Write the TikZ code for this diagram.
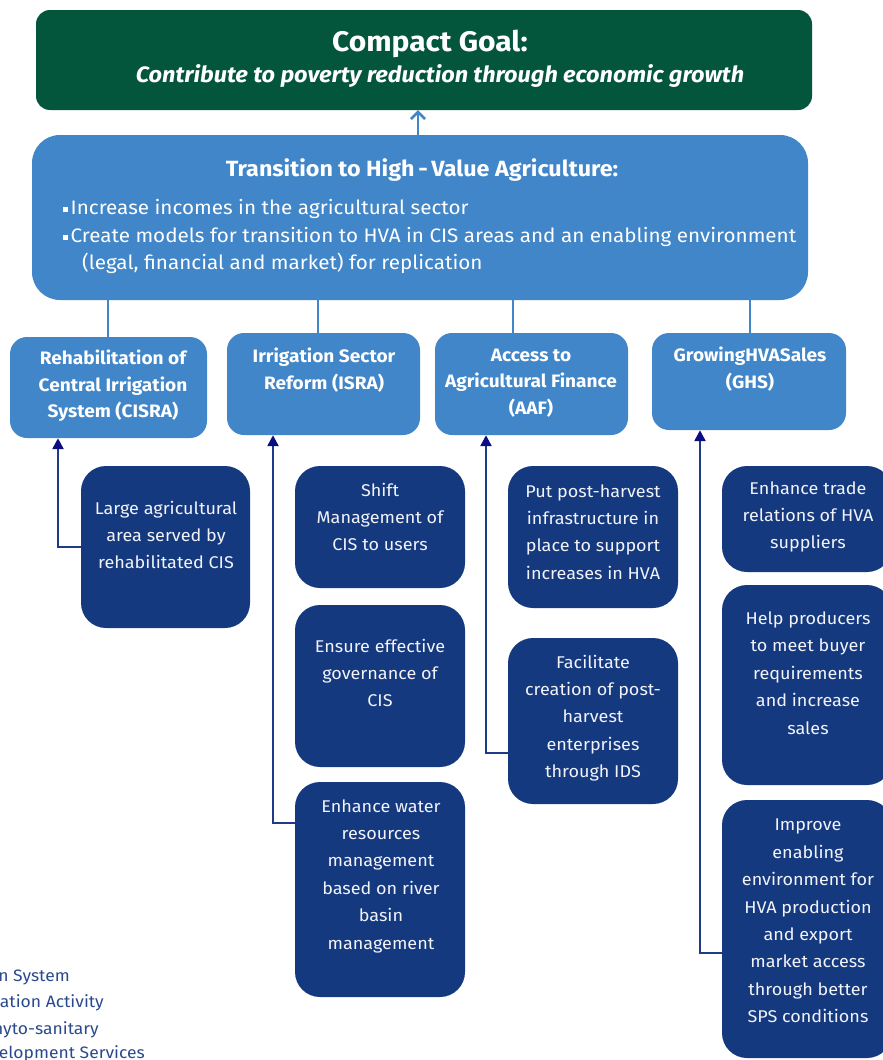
\documentclass[tikz,border=0pt]{standalone}
\usepackage{fontspec}
\setmainfont[FakeStretch=1.06]{Fira Sans}
\usetikzlibrary{arrows.meta}
\definecolor{goalgreen}{HTML}{03563B}
\definecolor{midblue}{HTML}{4186C8}
\definecolor{darkbox}{HTML}{15397F}
\definecolor{connblue}{HTML}{1E3B87}
\definecolor{tipnavy}{HTML}{0B0E80}
\definecolor{boxtext}{HTML}{F2F3F8}
\definecolor{legendblue}{HTML}{2A4A8C}
\tikzset{
  goalbox/.style={fill=goalgreen, rounded corners=14pt, inner sep=0pt},
  transbox/.style={fill=midblue, rounded corners=28pt, inner sep=0pt},
  compbox/.style={fill=midblue, rounded corners=17pt, inner sep=0pt},
  actbox/.style={fill=darkbox, rounded corners=25pt, inner sep=0pt},
  comptext/.style={text=white, align=center, font=\bfseries\fontsize{18}{26.5}\selectfont, inner sep=0pt},
  acttext/.style={text=boxtext, align=center, font=\fontsize{17}{27.4}\selectfont, inner sep=0pt},
  bullettext/.style={text=white, anchor=west, font=\fontsize{19.5}{24}\selectfont, inner sep=0pt},
  legendtext/.style={text=legendblue, anchor=east, font=\fontsize{16.5}{20}\selectfont, inner sep=0pt},
  stemline/.style={draw=midblue, line width=2.2pt},
  conn/.style={draw=connblue, line width=2.4pt, -{Triangle[length=11pt,width=11pt,color=tipnavy]}},
}
\newcommand{\sqbullet}{\textcolor{white}{\rule[3pt]{5pt}{5pt}}\hspace{2.5pt}}
\begin{document}
\begin{tikzpicture}[x=1pt,y=-1pt]
\useasboundingbox (0,0) rectangle (883,1060);
\clip (0,0) rectangle (883,1060);

% goal and programme level
\node[goalbox, minimum width=776pt, minimum height=100pt] (goal) at (424,60) {};
\node[text=white, font=\bfseries\fontsize{28.3}{32}\selectfont, inner sep=0pt] (goaltitle) at (430,44) {Compact Goal:};
\node[text=white, font=\bfseries\itshape\fontsize{22.2}{26}\selectfont, inner sep=0pt] (goalsub) at (440,76) {Contribute to poverty reduction through economic growth};

\node[transbox, minimum width=776pt, minimum height=165pt] (trans) at (420,217.5) {};
\node[text=white, font=\bfseries\fontsize{22}{26}\selectfont, inner sep=0pt] (transtitle) at (422,170) {Transition to High\,-\,Value Agriculture:};
\node[bullettext] (b1) at (63,209) {\sqbullet Increase incomes in the agricultural sector};
\node[bullettext] (b2) at (63,237) {\sqbullet Create models for transition to HVA in CIS areas and an enabling environment};
\node[bullettext] (b3) at (82,263) {(legal, financial and market) for replication};

\draw[draw=midblue, line width=2.6pt, -{Straight Barb[length=7pt,width=14pt]}] (trans.north -| 418,0) -- (goal.south -| 418,0);

% components
\node[compbox, minimum width=197pt, minimum height=101pt] (cisra) at (108.5,387.5) {};
\node[comptext] (cisrat) at (113,386) {Rehabilitation of\\Central Irrigation\\System (CISRA)};
\node[compbox, minimum width=193pt, minimum height=102pt] (isra) at (323.5,384) {};
\node[comptext] (israt) at (324,370) {Irrigation Sector\\Reform (ISRA)};
\node[compbox, minimum width=193pt, minimum height=102pt] (aaf) at (531.5,384) {};
\node[comptext] (aaft) at (531,383) {Access to\\Agricultural Finance\\(AAF)};
\node[compbox, minimum width=194pt, minimum height=97pt] (ghs) at (749,381.5) {};
\node[comptext] (ghst) at (750,369) {GrowingHVASales\\(GHS)};

\draw[stemline] (trans.south -| 108,0) -- (cisra.north -| 108,0);
\draw[stemline] (trans.south -| 318,0) -- (isra.north -| 318,0);
\draw[stemline] (trans.south -| 513,0) -- (aaf.north -| 513,0);
\draw[stemline] (trans.south -| 750,0) -- (ghs.north -| 750,0);

% activities
\node[actbox, minimum width=169pt, minimum height=162pt] (lg) at (165.5,547) {};
\node[acttext] (lgt) at (166,535) {Large agricultural\\area served by\\rehabilitated CIS};

\node[actbox, minimum width=170pt, minimum height=122pt] (shift) at (380,527) {};
\node[acttext] (shiftt) at (380,517) {Shift\\Management of\\CIS to users};
\node[actbox, minimum width=170pt, minimum height=162pt] (ensure) at (380,686) {};
\node[acttext] (ensuret) at (380,673) {Ensure effective\\governance of\\CIS};
\node[actbox, minimum width=170pt, minimum height=215pt] (water) at (380,889.5) {};
\node[acttext] (watert) at (381,876) {Enhance water\\resources\\management\\based on river\\basin\\management};

\node[actbox, minimum width=170pt, minimum height=142pt] (put) at (593,537) {};
\node[acttext] (putt) at (593,532) {Put post-harvest\\infrastructure in\\place to support\\increases in HVA};
\node[actbox, minimum width=170pt, minimum height=166pt] (facil) at (593,721) {};
\node[acttext] (facilt) at (593,718) {Facilitate\\creation of post-\\harvest\\enterprises\\through IDS};

\node[actbox, minimum width=170pt, minimum height=106pt] (trade) at (807,519) {};
\node[acttext] (tradet) at (808,517) {Enhance trade\\relations of HVA\\suppliers};
\node[actbox, minimum width=170pt, minimum height=200pt] (help) at (807,685) {};
\node[acttext] (helpt) at (808,673) {Help producers\\to meet buyer\\requirements\\and increase\\sales};
\node[actbox, minimum width=170pt, minimum height=258pt] (improve) at (807,929) {};
\node[acttext] (improvet) at (808,921) {Improve\\enabling\\environment for\\HVA production\\and export\\market access\\through better\\SPS conditions};

% connectors from activities up to their component
\coordinate (k1) at (58,547);
\coordinate (k2) at (273,823);
\coordinate (k3) at (486,753);
\coordinate (k4) at (700,953);
\draw[conn] (k1 -| lg.west) -- (k1) -- (k1 |- cisra.south);
\draw[conn] (k2 -| water.west) -- (k2) -- (k2 |- isra.south);
\draw[conn] (k3 -| facil.west) -- (k3) -- (k3 |- aaf.south);
\draw[conn] (k4 -| improve.west) -- (k4) -- (k4 |- ghs.south);

% abbreviations
\node[legendtext] (l1) at (70,977) {n System};
\node[legendtext] (l2) at (104,1003) {ation Activity};
\node[legendtext] (l3) at (99,1030) {hyto-sanitary};
\node[legendtext] (l4) at (145,1054) {elopment Services};
\end{tikzpicture}
\end{document}
